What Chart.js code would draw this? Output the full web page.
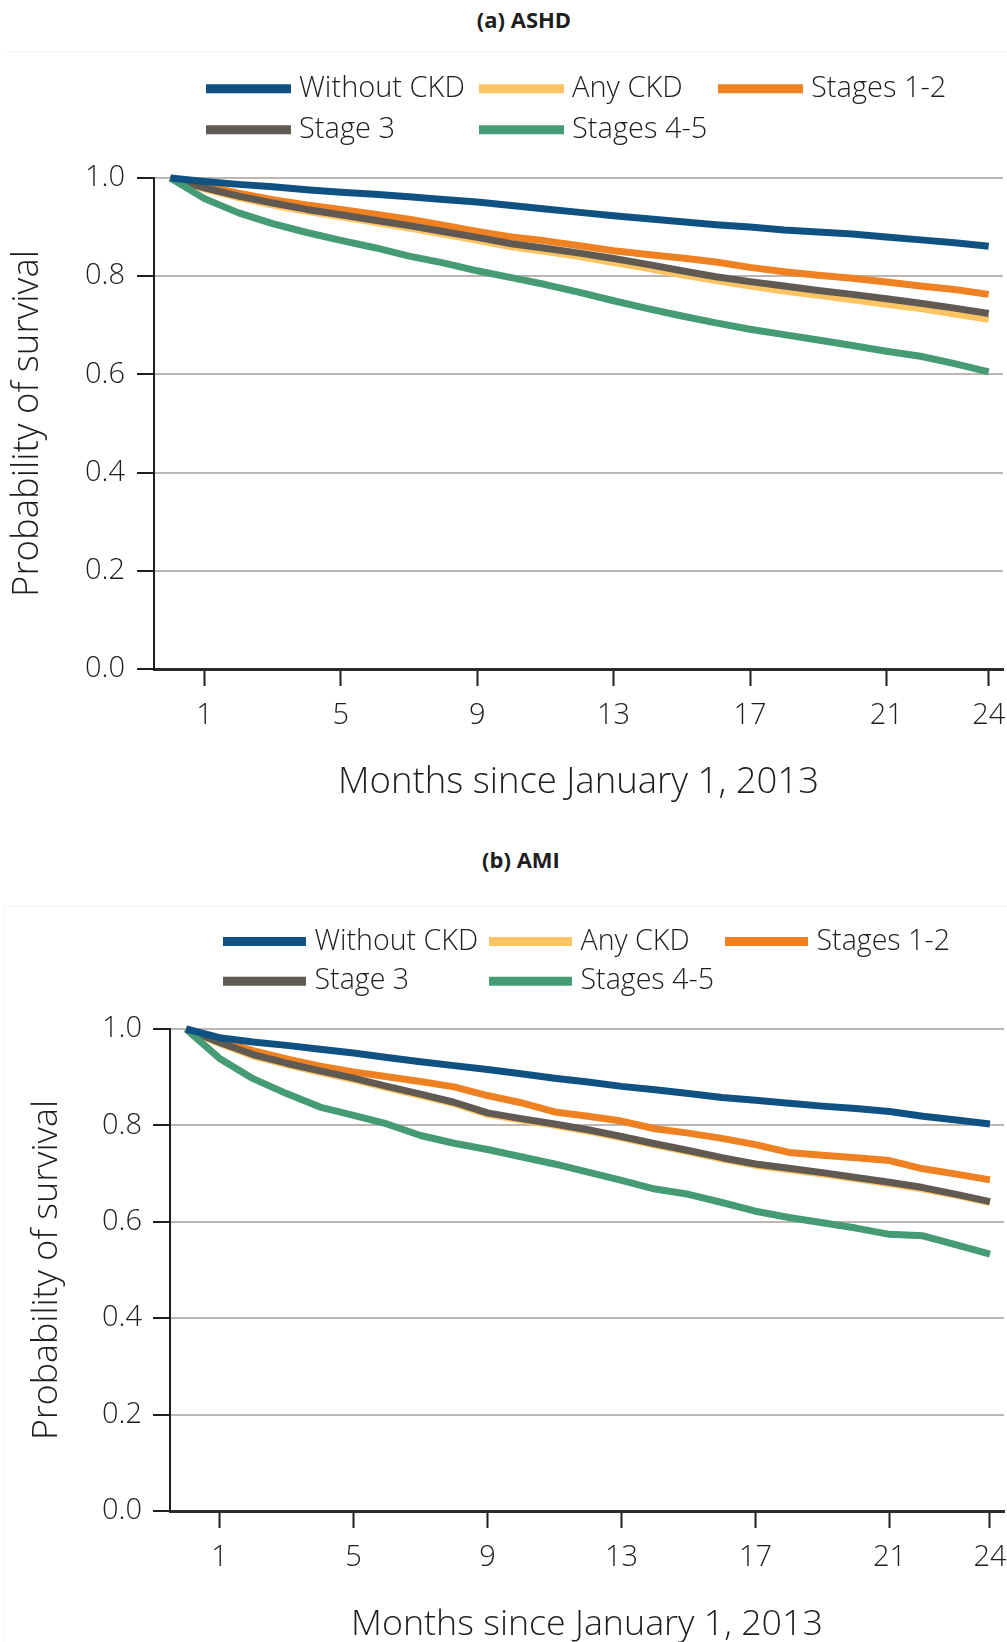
<!DOCTYPE html>
<html>
<head>
<meta charset="utf-8">
<title>Survival by CKD status</title>
<script src="https://cdn.jsdelivr.net/npm/chart.js@4/dist/chart.umd.min.js"></script>
<style>
  html, body { margin: 0; padding: 0; background: #ffffff; }
  body { width: 1007px; height: 1642px; position: relative; overflow: hidden;
         font-family: 'Open Sans', sans-serif; color: #1e1e1e; }
  .panel-title { position: absolute; width: 200px; text-align: center; font-weight: 700;
                 font-size: 22px; line-height: 24px; }
  .frame { position: absolute; border-top: 1px solid #f4f4f4; }
  canvas { position: absolute; left: 0; }
</style>
</head>
<body>
<div class="frame" style="left:6px; top:51px; width:1001px;"></div>
<div class="frame" style="left:4px; top:906px; width:1003px; height:736px; border-left:1px solid #f4f4f4;"></div>
<div class="panel-title" style="left:424px; top:7px;">(a) ASHD</div>
<div class="panel-title" style="left:421px; top:847px;">(b) AMI</div>
<canvas id="ashd" width="1007" height="820" style="top:0px;"></canvas>
<canvas id="ami" width="1007" height="830" style="top:820px;"></canvas>
<script>
// Months of follow-up and the tick values shown on each axis
const months = [0, 1, 2, 3, 4, 5, 6, 7, 8, 9, 10, 11, 12, 13, 14, 15, 16, 17, 18, 19, 20, 21, 22, 23, 24];
const xTickMonths = [1, 5, 9, 13, 17, 21, 24];
const yTickValues = [0, 0.2, 0.4, 0.6, 0.8, 1.0];
const seriesNames = ['Without CKD', 'Any CKD', 'Stages 1-2', 'Stage 3', 'Stages 4-5'];

// (a) ASHD survival probabilities by month
const ashdWithoutCkd = [1.000, 0.993, 0.987, 0.982, 0.976, 0.971, 0.967, 0.962, 0.956, 0.951, 0.944, 0.937, 0.930, 0.923, 0.917, 0.911, 0.905, 0.900, 0.894, 0.890, 0.886, 0.880, 0.874, 0.868, 0.861];
const ashdAnyCkd     = [1.000, 0.978, 0.960, 0.945, 0.932, 0.921, 0.910, 0.898, 0.886, 0.873, 0.860, 0.850, 0.840, 0.828, 0.816, 0.803, 0.791, 0.780, 0.770, 0.761, 0.752, 0.743, 0.734, 0.723, 0.712];
const ashdStages12   = [1.000, 0.984, 0.969, 0.956, 0.945, 0.936, 0.926, 0.916, 0.904, 0.891, 0.880, 0.872, 0.862, 0.852, 0.844, 0.837, 0.829, 0.818, 0.809, 0.802, 0.796, 0.788, 0.780, 0.773, 0.763];
const ashdStage3     = [1.000, 0.980, 0.963, 0.949, 0.936, 0.925, 0.914, 0.903, 0.891, 0.879, 0.866, 0.857, 0.847, 0.836, 0.824, 0.811, 0.799, 0.789, 0.780, 0.771, 0.763, 0.754, 0.745, 0.735, 0.724];
const ashdStages45   = [1.000, 0.958, 0.929, 0.907, 0.889, 0.873, 0.858, 0.841, 0.827, 0.811, 0.797, 0.783, 0.767, 0.750, 0.734, 0.719, 0.705, 0.692, 0.681, 0.670, 0.659, 0.647, 0.637, 0.622, 0.605];

// (b) AMI survival probabilities by month
const amiWithoutCkd = [1.000, 0.982, 0.973, 0.966, 0.958, 0.950, 0.941, 0.932, 0.924, 0.916, 0.907, 0.898, 0.890, 0.881, 0.874, 0.866, 0.858, 0.852, 0.846, 0.840, 0.835, 0.829, 0.819, 0.811, 0.803];
const amiAnyCkd     = [1.000, 0.970, 0.944, 0.926, 0.910, 0.895, 0.878, 0.862, 0.845, 0.823, 0.811, 0.800, 0.788, 0.774, 0.759, 0.745, 0.730, 0.717, 0.708, 0.699, 0.689, 0.679, 0.668, 0.655, 0.640];
const amiStages12   = [1.000, 0.975, 0.955, 0.938, 0.923, 0.911, 0.901, 0.891, 0.880, 0.862, 0.847, 0.828, 0.819, 0.809, 0.793, 0.784, 0.773, 0.760, 0.744, 0.738, 0.733, 0.727, 0.710, 0.699, 0.687];
const amiStage3     = [1.000, 0.972, 0.947, 0.929, 0.913, 0.898, 0.881, 0.865, 0.848, 0.826, 0.814, 0.803, 0.791, 0.777, 0.762, 0.748, 0.733, 0.720, 0.711, 0.702, 0.692, 0.682, 0.671, 0.657, 0.642];
const amiStages45   = [1.000, 0.939, 0.897, 0.866, 0.838, 0.821, 0.803, 0.779, 0.763, 0.750, 0.735, 0.720, 0.703, 0.686, 0.668, 0.657, 0.640, 0.622, 0.609, 0.598, 0.587, 0.574, 0.571, 0.552, 0.533];

// Series styling
const seriesColors = ['#0f5281', '#fdc463', '#ee8222', '#615a52', '#459b73'];
const seriesDrawOrder = [0, 4, 3, 2, 1];   // lower value is painted later (on top)

const TEXT = '#1e1e1e';
const GRID = '#bdb5af';
const FONT = "'Open Sans', sans-serif";

function makeDatasets(seriesValues) {
  return seriesNames.map((name, i) => ({
    label: name,
    data: months.map((m, k) => ({ x: m, y: seriesValues[i][k] })),
    borderColor: seriesColors[i],
    backgroundColor: seriesColors[i],
    borderWidth: 7,
    borderJoinStyle: 'round',
    pointRadius: 0,
    pointHoverRadius: 0,
    tension: 0,
    fill: false,
    clip: false,
    order: seriesDrawOrder[i]
  }));
}

// Two-row legend whose second row lines up with the columns of the first
const gridLegend = {
  id: 'gridLegend',
  afterDraw(chart, args, opts) {
    const ctx = chart.ctx;
    ctx.save();
    ctx.font = `${opts.weight} ${opts.size}px ${FONT}`;
    ctx.textBaseline = 'middle';
    ctx.textAlign = 'left';
    ctx.lineCap = 'butt';
    chart.data.datasets.forEach((ds, i) => {
      const row = Math.floor(i / opts.perRow);
      const col = i % opts.perRow;
      const x = opts.columns[col];
      const y = opts.rows[row];
      ctx.strokeStyle = ds.borderColor;
      ctx.lineWidth = opts.swatchWidth;
      ctx.beginPath();
      ctx.moveTo(x, y);
      ctx.lineTo(x + opts.swatchLength, y);
      ctx.stroke();
      ctx.fillStyle = TEXT;
      ctx.fillText(ds.label, x + opts.swatchLength + opts.gap, y + opts.textShift);
    });
    ctx.restore();
  }
};

function makeChart(canvasId, seriesValues, geo) {
  return new Chart(document.getElementById(canvasId), {
    type: 'line',
    data: { datasets: makeDatasets(seriesValues) },
    plugins: [gridLegend],
    options: {
      responsive: false,
      animation: false,
      devicePixelRatio: 1,
      layout: { padding: { top: geo.plotTop, left: 0, right: geo.rightPad, bottom: 0 } },
      plugins: {
        legend: { display: false },
        tooltip: { enabled: false },
        title: { display: false },
        gridLegend: {
          perRow: 3,
          columns: geo.legendColumns,
          rows: geo.legendRows,
          swatchLength: geo.swatchLength,
          swatchWidth: 9,
          gap: geo.legendGap,
          size: geo.legendSize,
          weight: 300,
          textShift: 0
        }
      },
      scales: {
        x: {
          type: 'linear',
          min: -0.48,
          max: 24.42,
          afterBuildTicks: (s) => { s.ticks = xTickMonths.map(v => ({ value: v })); },
          afterFit: (s) => { s.height = geo.xAxisHeight; s.paddingLeft = 0; s.paddingRight = 0; },
          ticks: {
            autoSkip: false, maxRotation: 0, minRotation: 0,
            padding: 12, color: TEXT,
            font: { family: FONT, size: 29, weight: 300 },
            callback: (v) => String(v)
          },
          grid: {
            drawOnChartArea: false, drawTicks: true,
            tickLength: 17, tickWidth: 2, tickColor: TEXT
          },
          border: { display: true, color: '#2b2b2b', width: 3 },
          title: {
            display: true, text: 'Months since January 1, 2013', color: TEXT,
            font: { family: FONT, size: geo.titleSize, weight: 300 },
            padding: { top: 0, bottom: geo.xTitleBottom }
          }
        },
        y: {
          min: 0,
          max: 1,
          afterBuildTicks: (s) => { s.ticks = yTickValues.map(v => ({ value: v })); },
          afterFit: (s) => { s.width = geo.yAxisWidth; s.paddingTop = 0; s.paddingBottom = 0; },
          ticks: {
            padding: geo.yTickPad, color: TEXT,
            font: { family: FONT, size: 29, weight: 300 },
            callback: (v) => Number(v).toFixed(1)
          },
          grid: {
            color: (c) => (c.tick && c.tick.value === 0) ? 'rgba(0,0,0,0)' : GRID,
            lineWidth: 2,
            drawTicks: true, tickLength: 17, tickWidth: 2, tickColor: TEXT
          },
          border: { display: true, color: TEXT, width: 2 },
          title: {
            display: true, text: 'Probability of survival', color: TEXT,
            font: { family: FONT, size: geo.titleSize, weight: 300 },
            padding: { top: geo.yTitleTop, bottom: 0 }
          }
        }
      }
    }
  });
}

makeChart('ashd', [ashdWithoutCkd, ashdAnyCkd, ashdStages12, ashdStage3, ashdStages45], {
  plotTop: 178, rightPad: 4, xAxisHeight: 151, yAxisWidth: 154,
  titleSize: 36.5, xTitleBottom: 15.5, yTitleTop: 6, yTickPad: 12,
  legendColumns: [206, 479, 718], legendRows: [88.7, 129.8],
  swatchLength: 85, legendGap: 8, legendSize: 29
});

makeChart('ami', [amiWithoutCkd, amiAnyCkd, amiStages12, amiStage3, amiStages45], {
  plotTop: 209, rightPad: 3, xAxisHeight: 139, yAxisWidth: 170,
  titleSize: 35.8, xTitleBottom: 3.9, yTitleTop: 25.4, yTickPad: 11,
  legendColumns: [223, 489, 725], legendRows: [121.5, 161.2],
  swatchLength: 83, legendGap: 8.5, legendSize: 28.6
});
</script>
</body>
</html>
